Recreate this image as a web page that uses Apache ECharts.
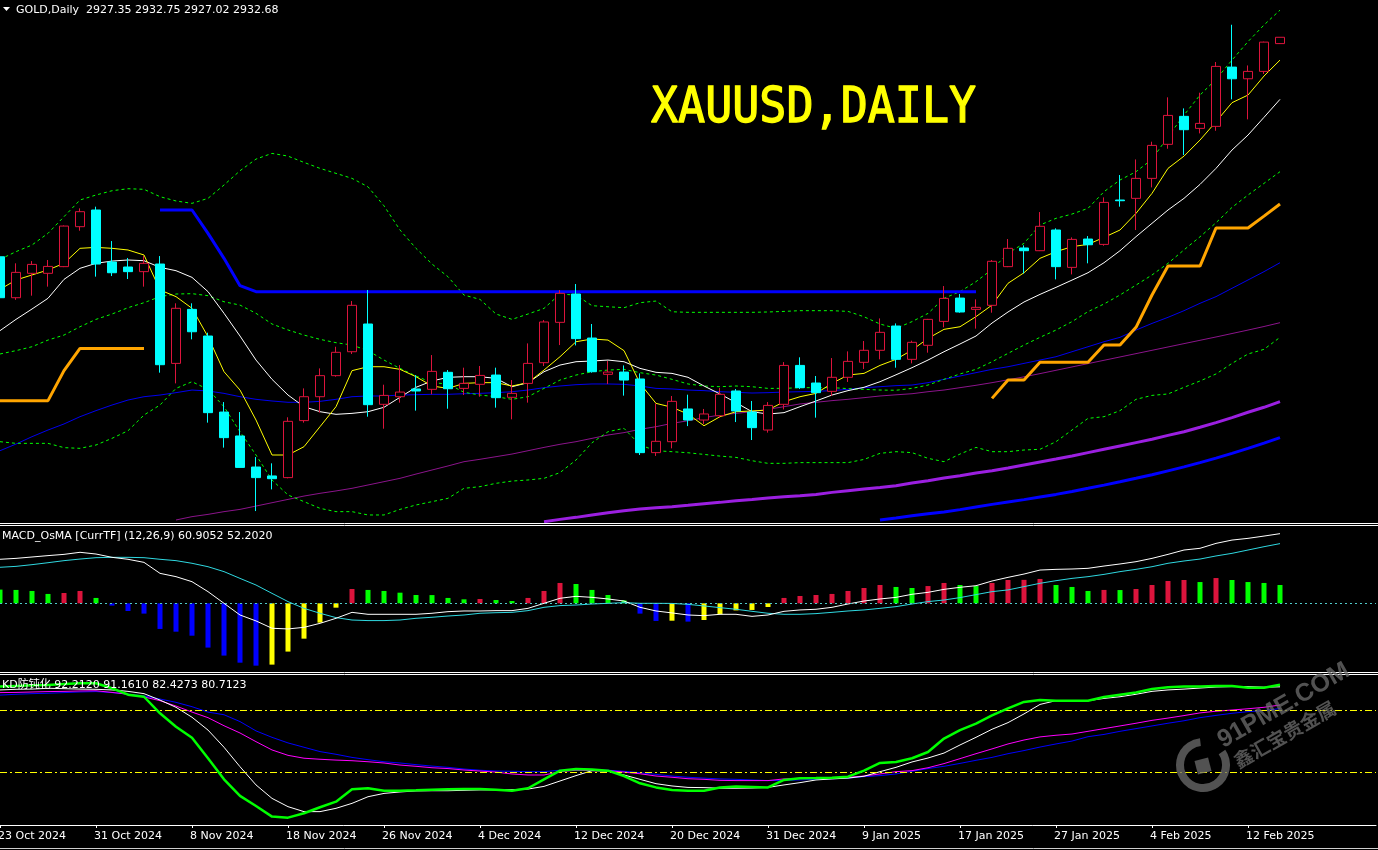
<!DOCTYPE html>
<html><head><meta charset="utf-8">
<script src="https://cdn.jsdelivr.net/npm/echarts@6/dist/echarts.min.js"></script>
<style>html,body{margin:0;padding:0;background:#000;overflow:hidden}#c{width:1378px;height:850px}</style>
</head><body><div id="c"></div>
<script>
// ---------------- data ----------------
const dates = ['23 Oct 2024','24 Oct 2024','25 Oct 2024','28 Oct 2024','29 Oct 2024','30 Oct 2024','31 Oct 2024','1 Nov 2024','4 Nov 2024','5 Nov 2024',
'6 Nov 2024','7 Nov 2024','8 Nov 2024','11 Nov 2024','12 Nov 2024','13 Nov 2024','14 Nov 2024','15 Nov 2024','18 Nov 2024','19 Nov 2024',
'20 Nov 2024','21 Nov 2024','22 Nov 2024','25 Nov 2024','26 Nov 2024','27 Nov 2024','28 Nov 2024','29 Nov 2024','2 Dec 2024','3 Dec 2024',
'4 Dec 2024','5 Dec 2024','6 Dec 2024','9 Dec 2024','10 Dec 2024','11 Dec 2024','12 Dec 2024','13 Dec 2024','16 Dec 2024','17 Dec 2024',
'18 Dec 2024','19 Dec 2024','20 Dec 2024','23 Dec 2024','24 Dec 2024','26 Dec 2024','27 Dec 2024','30 Dec 2024','31 Dec 2024','2 Jan 2025',
'3 Jan 2025','6 Jan 2025','7 Jan 2025','8 Jan 2025','9 Jan 2025','10 Jan 2025','13 Jan 2025','14 Jan 2025','15 Jan 2025','16 Jan 2025',
'17 Jan 2025','20 Jan 2025','21 Jan 2025','22 Jan 2025','23 Jan 2025','24 Jan 2025','27 Jan 2025','28 Jan 2025','29 Jan 2025','30 Jan 2025',
'31 Jan 2025','3 Feb 2025','4 Feb 2025','5 Feb 2025','6 Feb 2025','7 Feb 2025','10 Feb 2025','11 Feb 2025','12 Feb 2025','13 Feb 2025',
'14 Feb 2025'];
const emptySlots = ['','','','','',''];

const open = [2748.2,2713.8,2734.3,2734.3,2739.9,2773.5,2787.5,2743.8,2739.6,2735.7,
2742.1,2658.6,2704.0,2681.6,2617.7,2597.6,2571.5,2564.0,2562.6,2610.5,
2630.6,2648.3,2668.4,2691.7,2624.2,2630.6,2637.1,2636.8,2651.1,2637.6,
2641.0,2648.8,2630.1,2641.8,2659.2,2693.1,2716.9,2679.9,2649.4,2651.3,
2645.5,2583.6,2592.8,2620.3,2611.0,2614.6,2635.4,2617.7,2602.6,2624.2,
2656.9,2642.1,2635.1,2646.9,2659.5,2669.6,2690.0,2662.0,2673.8,2693.9,
2713.5,2704.0,2707.4,2739.9,2755.6,2753.3,2770.7,2739.3,2763.1,2758.6,
2795.9,2797.3,2814.1,2842.7,2866.2,2856.1,2857.8,2907.6,2897.8,2904.0,
2927.35];
const high = [2758.0,2742.7,2744.6,2745.5,2774.5,2788.9,2790.3,2761.4,2747.2,2748.8,
2748.8,2709.1,2709.1,2684.4,2626.1,2617.7,2579.9,2574.6,2613.3,2637.6,
2654.4,2672.6,2711.0,2720.3,2640.7,2657.2,2648.8,2665.6,2653.0,2655.0,
2656.4,2655.0,2644.6,2675.4,2695.0,2720.2,2725.3,2691.7,2660.6,2656.9,
2650.2,2625.0,2631.2,2632.3,2620.3,2637.9,2637.1,2627.0,2626.1,2659.7,
2663.7,2648.0,2663.1,2668.7,2677.4,2696.4,2692.2,2677.7,2696.0,2723.6,
2716.9,2712.4,2745.5,2763.1,2757.8,2785.8,2772.1,2764.5,2765.6,2798.1,
2816.9,2830.0,2844.9,2882.2,2872.9,2886.1,2911.9,2943.2,2909.0,2929.0,
2932.75];
const low = [2708.0,2712.0,2715.5,2723.1,2739.5,2770.1,2731.5,2732.0,2729.5,2723.1,
2650.8,2641.8,2678.8,2608.8,2587.8,2571.0,2534.5,2552.7,2562.0,2608.8,
2617.2,2647.4,2666.5,2613.8,2603.7,2625.6,2618.9,2632.6,2620.5,2632.0,
2630.6,2621.4,2611.6,2625.6,2656.4,2674.0,2673.7,2650.8,2641.3,2631.5,
2581.6,2580.8,2587.2,2605.9,2607.6,2612.7,2609.3,2594.2,2600.4,2619.9,
2637.1,2613.0,2631.2,2643.0,2653.9,2662.0,2655.0,2658.6,2667.6,2688.9,
2701.2,2687.8,2701.2,2739.5,2734.2,2753.0,2729.2,2733.4,2742.7,2757.5,
2790.3,2770.7,2806.5,2839.0,2833.7,2851.9,2854.1,2880.5,2863.7,2901.8,
2927.02];
const close = [2713.8,2735.1,2741.8,2740.1,2774.0,2786.1,2742.1,2734.8,2735.7,2742.7,
2657.5,2704.9,2685.2,2617.2,2596.2,2571.2,2562.6,2561.7,2609.9,2630.6,
2648.3,2667.9,2707.4,2623.9,2631.7,2634.5,2635.4,2651.9,2637.3,2641.8,
2648.5,2629.8,2633.4,2658.6,2693.4,2717.5,2679.4,2651.6,2651.3,2644.6,
2583.6,2593.1,2626.7,2611.0,2616.1,2632.6,2618.6,2604.6,2623.3,2656.9,
2638.2,2634.0,2646.9,2660.3,2669.6,2684.7,2662.0,2676.3,2695.6,2713.2,
2701.8,2705.7,2744.4,2755.3,2753.3,2773.8,2739.9,2762.8,2758.3,2793.9,
2795.3,2814.1,2841.8,2867.0,2855.0,2860.3,2908.2,2897.8,2904.0,2928.6,
2932.68];

const maFast = [2720.8,2728.7,2732.9,2737.1,2742.7,2755.3,2756.1,2755.3,2753.9,2749.7,
2720.3,2714.7,2704.9,2681.0,2651.6,2636.2,2611.0,2581.6,2581.6,2588.6,
2605.4,2622.2,2652.5,2655.8,2655.8,2653.6,2647.4,2639.6,2637.6,2641.8,
2642.4,2642.4,2639.6,2642.4,2653.0,2664.2,2676.8,2679.1,2678.2,2669.3,
2641.8,2625.0,2621.7,2616.0,2606.2,2613.8,2618.0,2618.6,2619.4,2626.4,
2630.6,2633.4,2641.8,2648.8,2650.2,2656.9,2662.0,2669.8,2679.6,2687.2,
2689.4,2697.9,2707.6,2725.9,2734.8,2746.9,2752.5,2756.7,2758.6,2764.5,
2770.7,2784.7,2801.5,2822.5,2832.8,2846.3,2861.7,2877.7,2884.1,2900.1,
2913.5];
const maMid = [2686.1,2695.6,2704.3,2713.3,2729.2,2738.5,2742.7,2744.6,2745.5,2744.9,
2739.3,2736.5,2730.9,2718.9,2700.7,2681.6,2661.4,2645.2,2632.0,2622.2,
2618.0,2615.8,2616.6,2618.0,2621.7,2630.1,2638.5,2643.8,2646.9,2647.4,
2647.4,2646.0,2639.0,2642.4,2651.6,2657.2,2660.0,2660.6,2661.4,2660.0,
2654.4,2651.1,2650.2,2646.9,2639.6,2632.9,2625.6,2618.0,2616.0,2617.2,
2622.2,2627.0,2632.0,2635.7,2638.5,2643.2,2649.0,2655.0,2661.4,2668.4,
2674.9,2681.6,2692.5,2701.8,2710.2,2716.6,2722.5,2728.6,2734.8,2743.2,
2753.3,2765.1,2776.3,2787.5,2797.3,2809.0,2822.5,2837.9,2850.5,2865.4,
2880.5];
const bbUpper = [2746.0,2752.5,2758.1,2767.9,2781.9,2795.9,2800.1,2803.7,2805.4,2804.9,
2798.7,2795.1,2793.1,2797.3,2808.5,2820.5,2830.3,2835.1,2832.8,2827.5,
2822.5,2818.3,2814.1,2807.0,2791.0,2770.7,2755.3,2742.1,2731.4,2716.0,
2712.4,2700.1,2695.6,2700.1,2704.8,2716.9,2716.0,2707.1,2706.2,2705.4,
2709.6,2711.0,2702.0,2701.5,2701.5,2701.5,2701.5,2701.5,2701.8,2702.3,
2702.9,2702.9,2702.9,2702.3,2697.8,2691.7,2688.0,2693.7,2700.6,2713.3,
2718.9,2727.3,2737.6,2751.1,2759.5,2774.9,2780.5,2784.1,2788.9,2802.9,
2812.7,2819.7,2830.1,2849.1,2867.3,2884.1,2897.3,2913.5,2929.0,2943.0,
2955.5];
const bbMiddle = [2666.5,2669.3,2672.6,2678.2,2682.4,2689.4,2695.6,2700.1,2705.4,2709.6,
2714.7,2716.9,2717.2,2715.5,2710.4,2707.6,2700.7,2691.7,2686.7,2682.4,
2678.8,2676.0,2674.0,2669.3,2661.4,2654.4,2648.0,2642.4,2641.3,2634.3,
2632.0,2630.6,2628.4,2630.6,2637.6,2644.6,2648.8,2651.6,2653.0,2653.6,
2650.8,2648.8,2645.2,2641.3,2639.6,2639.0,2639.6,2639.0,2637.6,2637.6,
2638.2,2638.2,2638.2,2637.4,2636.8,2636.2,2636.0,2637.6,2640.4,2645.2,
2649.7,2653.6,2660.0,2667.0,2674.0,2680.5,2686.6,2693.7,2702.1,2708.5,
2716.1,2724.4,2732.9,2742.7,2754.0,2765.0,2776.8,2789.7,2800.1,2809.9,
2819.7];
const bbLower = [2592.8,2591.4,2591.4,2591.4,2587.8,2587.2,2590.0,2595.6,2602.0,2615.2,
2623.6,2637.6,2643.2,2636.8,2622.2,2601.2,2581.6,2560.6,2548.0,2542.4,
2536.8,2534.0,2534.0,2531.2,2531.2,2535.9,2539.6,2542.4,2545.2,2553.6,
2555.0,2557.8,2559.7,2560.6,2562.0,2566.8,2577.4,2591.9,2601.2,2604.0,
2590.0,2585.2,2584.4,2583.5,2582.1,2580.7,2579.6,2576.8,2574.6,2574.6,
2575.2,2575.2,2575.2,2575.2,2577.9,2583.0,2584.4,2583.6,2578.8,2576.0,
2582.4,2588.0,2584.4,2584.4,2585.8,2586.4,2592.8,2602.6,2612.4,2613.8,
2618.9,2628.4,2631.7,2632.9,2638.5,2643.8,2649.7,2658.6,2666.5,2670.4,
2680.5];
const maBlue = [2585.2,2590.8,2597.0,2602.6,2607.7,2613.8,2618.9,2623.6,2627.8,2630.6,
2632.0,2634.0,2636.2,2635.4,2633.4,2630.6,2628.4,2627.0,2625.9,2625.9,
2626.7,2628.4,2630.6,2631.2,2631.2,2632.0,2632.3,2632.6,2632.6,2633.1,
2633.4,2634.0,2634.8,2636.2,2638.2,2639.6,2640.7,2641.3,2641.3,2641.0,
2639.6,2637.6,2637.1,2636.2,2635.7,2634.8,2634.3,2633.7,2634.0,2634.5,
2634.8,2635.1,2635.7,2636.8,2638.2,2639.0,2639.9,2640.4,2642.4,2645.2,
2648.0,2650.8,2653.6,2655.8,2658.6,2661.4,2664.2,2668.4,2672.6,2676.8,
2680.5,2686.6,2692.2,2697.3,2702.9,2709.1,2714.7,2721.7,2728.7,2735.7,
2743.2];
const maPurple = [null,null,null,null,null,null,null,null,null,null,
null,2527.0,2529.8,2531.7,2534.0,2535.9,2538.7,2541.5,2544.3,2547.1,
2549.4,2551.4,2553.6,2556.4,2559.2,2562.0,2565.6,2569.0,2572.4,2576.0,
2578.0,2580.2,2582.4,2585.2,2588.0,2590.6,2592.8,2595.6,2598.4,2600.4,
2603.2,2605.4,2608.2,2610.4,2613.0,2615.2,2616.6,2618.0,2620.0,2622.2,
2624.5,2625.9,2627.3,2628.4,2629.8,2631.2,2632.2,2633.1,2634.8,2636.2,
2638.2,2640.2,2642.4,2644.8,2647.3,2650.0,2652.8,2655.6,2658.4,2661.2,
2664.0,2666.8,2669.6,2672.4,2675.2,2678.0,2680.8,2683.7,2686.6,2689.6,
2692.8];
const maViolet = [null,null,null,null,null,null,null,null,null,null,
null,null,null,null,null,null,null,null,null,null,
null,null,null,null,null,null,null,null,null,null,
null,null,null,null,2525.6,2527.5,2529.2,2531.2,2533.1,2534.8,
2536.2,2537.3,2538.2,2539.3,2540.7,2541.8,2543.2,2544.3,2545.5,2546.6,
2547.4,2548.5,2550.2,2551.6,2553.0,2554.2,2555.8,2558.1,2560.0,2562.3,
2564.2,2566.5,2568.4,2570.7,2573.2,2575.7,2578.2,2580.8,2583.6,2586.4,
2589.2,2592.0,2594.8,2598.1,2601.2,2604.9,2608.8,2613.0,2617.5,2621.7,
2626.4];
const maSlowBlue = [null,null,null,null,null,null,null,null,null,null,
null,null,null,null,null,null,null,null,null,null,
null,null,null,null,null,null,null,null,null,null,
null,null,null,null,null,null,null,null,null,null,
null,null,null,null,null,null,null,null,null,null,
null,null,null,null,null,2527.0,2528.7,2530.6,2532.3,2533.7,
2535.7,2537.9,2540.1,2542.1,2544.1,2546.3,2548.5,2551.0,2553.6,2556.3,
2559.1,2562.0,2565.0,2568.3,2571.6,2575.2,2579.0,2583.0,2587.2,2591.6,
2596.2];
const stopBlue = [null,null,null,null,null,null,null,null,null,null,
2787.5,2787.5,2787.5,2767.9,2746.9,2723.9,2718.9,2718.9,2718.9,2718.9,
2718.9,2718.9,2718.9,2718.9,2718.9,2718.9,2718.9,2718.9,2718.9,2718.9,
2718.9,2718.9,2718.9,2718.9,2718.9,2718.9,2718.9,2718.9,2718.9,2718.9,
2718.9,2718.9,2718.9,2718.9,2718.9,2718.9,2718.9,2718.9,2718.9,2718.9,
2718.9,2718.9,2718.9,2718.9,2718.9,2718.9,2718.9,2718.9,2718.9,2718.9,
2718.9,2718.9,null,null,null,null,null,null,null,null,
null,null,null,null,null,null,null,null,null,null,
null];
const stopOrange = [2627.3,2627.3,2627.3,2627.3,2652.5,2671.2,2671.2,2671.2,2671.2,2671.2,
null,null,null,null,null,null,null,null,null,null,
null,null,null,null,null,null,null,null,null,null,
null,null,null,null,null,null,null,null,null,null,
null,null,null,null,null,null,null,null,null,null,
null,null,null,null,null,null,null,null,null,null,
null,null,2629.2,2644.6,2644.6,2659.5,2659.5,2659.5,2659.5,2674.0,
2674.0,2688.9,2716.1,2740.4,2740.4,2740.4,2772.4,2772.4,2772.4,2782.4,
2792.5];

const macdHist = [12.0,11.7,10.8,8.2,9.0,10.8,4.7,-2.0,-6.7,-9.0,
-22.4,-24.8,-28.3,-38.7,-45.7,-51.9,-54.5,-53.6,-42.2,-30.9,
-16.9,-3.8,12.5,11.7,10.8,9.3,7.3,7.2,4.7,3.5,
3.8,2.9,2.0,4.7,10.8,17.8,16.9,11.7,7.3,2.6,
-9.0,-15.4,-15.2,-16.0,-14.6,-9.6,-6.2,-5.8,-3.2,4.7,
6.4,7.3,8.2,10.8,13.4,16.0,14.3,13.4,15.1,17.8,
16.0,15.1,17.8,20.4,20.5,21.3,16.0,14.3,10.8,11.7,
11.6,12.5,16.0,19.5,20.4,18.6,22.1,20.4,18.6,17.8,
16.0];
const macdLine = [38.5,39.3,40.5,41.7,42.8,44.6,43.1,40.2,38.5,35.8,
26.2,23.3,18.9,10.2,0.0,-10.2,-15.4,-21.8,-22.4,-21.0,
-17.5,-13.1,-7.9,-9.6,-9.6,-9.6,-9.6,-8.7,-7.3,-6.7,
-6.7,-6.4,-6.4,-4.4,0.0,4.4,6.1,5.2,3.8,2.0,
-3.5,-6.7,-8.4,-10.2,-10.8,-9.6,-9.6,-11.4,-10.2,-7.0,
-5.8,-5.2,-3.5,-0.6,2.0,3.8,5.2,7.9,9.6,12.2,
14.0,15.4,19.5,22.7,25.6,29.1,29.7,30.0,30.6,32.6,
34.4,36.4,39.3,42.8,46.6,48.1,52.4,55.3,56.8,58.8,
60.9];
const signalLine = [31.5,32.3,33.8,35.5,37.3,38.7,39.9,40.2,40.2,39.9,
38.5,37.3,35.0,32.0,27.7,21.8,16.0,8.7,1.5,-4.4,
-8.7,-12.5,-14.6,-15.1,-15.1,-14.6,-13.1,-12.2,-11.1,-10.2,
-8.7,-8.2,-7.9,-6.4,-3.5,-2.0,-1.5,-0.6,0.0,0.6,
0.0,0.0,-0.1,-0.9,-2.3,-3.8,-5.2,-7.0,-8.7,-9.6,
-9.6,-9.0,-7.9,-6.7,-5.8,-4.4,-2.9,-0.6,1.5,2.9,
5.0,7.6,10.2,11.7,14.6,17.5,19.8,21.8,23.3,25.3,
27.7,29.7,32.0,35.0,37.0,38.7,41.4,43.7,46.6,49.5,
52.2];

const kdGreen = [91.3,91.6,91.9,92.1,92.6,92.9,92.9,90.5,87.4,86.4,
78.4,71.9,66.6,56.7,46.5,38.5,33.6,28.5,28.0,30.1,
33.0,35.7,41.7,42.2,41.0,41.0,41.2,41.5,41.7,41.8,
41.8,41.5,41.0,42.2,46.5,50.7,51.5,51.3,50.7,48.1,
44.6,42.6,41.4,41.0,41.0,42.6,43.0,42.8,42.6,46.2,
47.0,47.1,47.3,47.8,50.7,54.4,54.9,56.7,59.7,66.2,
70.3,73.4,77.4,80.8,83.9,84.8,84.5,84.5,84.5,86.3,
87.4,88.5,90.1,91.0,91.3,91.3,91.6,91.6,90.8,90.8,
92.2];
const kdWhite = [89.7,90.0,90.1,90.5,90.3,90.1,90.0,89.7,89.0,87.9,
84.8,81.3,76.5,70.3,62.0,52.6,43.8,37.3,33.3,30.9,
30.9,32.5,34.9,38.1,39.7,40.4,40.9,41.0,41.0,41.2,
41.4,41.4,41.5,41.8,43.1,45.7,48.3,50.7,50.5,48.6,
46.5,44.4,43.3,42.6,42.5,42.2,42.2,42.3,42.6,43.8,
44.9,46.2,46.7,47.1,48.0,50.2,52.3,54.9,56.8,59.2,
63.1,66.8,70.7,73.9,78.1,82.7,84.5,84.5,84.5,85.6,
86.4,87.6,89.0,89.7,90.1,90.6,91.1,91.3,91.3,91.0,
91.2];
const kdMagenta = [88.4,88.5,88.7,88.9,89.0,89.2,89.3,88.5,87.6,86.3,
84.5,81.9,79.0,76.3,72.4,68.9,64.7,60.7,58.1,56.7,
56.2,55.8,55.5,55.0,54.4,53.4,52.8,52.1,51.7,51.0,
50.5,50.0,49.1,48.6,48.6,50.2,50.9,50.7,50.7,50.0,
49.2,48.1,47.5,46.8,46.5,46.0,45.9,45.9,45.9,46.7,
47.0,47.0,47.1,47.5,48.1,49.1,50.2,50.7,52.1,54.1,
56.5,58.9,61.2,63.6,65.5,67.0,67.8,68.4,69.7,71.0,
72.3,73.6,75.0,76.1,77.3,78.6,79.4,80.0,80.6,81.3,
82.4];
const kdBlue = [87.2,87.6,87.9,88.1,88.4,88.7,88.9,88.4,87.7,86.8,
85.3,83.7,81.6,79.0,77.7,74.4,69.9,66.8,64.1,62.0,
59.9,58.6,57.1,56.0,55.0,54.4,53.6,52.9,52.3,51.5,
50.9,50.5,50.4,50.2,50.2,50.9,51.0,51.0,50.9,50.4,
49.7,48.9,48.1,47.5,47.1,46.7,46.5,46.2,45.9,46.0,
46.2,46.5,46.8,47.1,47.8,48.3,49.1,50.4,51.7,52.8,
54.2,55.7,57.1,58.9,60.4,62.1,63.6,65.0,67.1,68.2,
69.7,71.0,72.3,73.6,74.8,76.3,77.4,78.4,79.2,79.7,
80.7];
const kdLevels = [80, 50];

const priceTitle = 'GOLD,Daily  2927.35 2932.75 2927.02 2932.68';
const bigTitle = 'XAUUSD,DAILY';
const macdTitle = 'MACD_OsMA [CurrTF] (12,26,9) 60.9052 52.2020';
const kdTitle = 'KD防钝化 92.2120 91.1610 82.4273 80.7123';
const wmText1 = '91PME.COM';
const wmText2 = '鑫汇宝贵金属';

// ---------------- chart ----------------
const N = dates.length;
const cats = dates.concat(emptySlots);
const slotW = 16;
const gWidth = slotW * (cats.length - 1);
const showTick = (i) => i % 6 === 0 && i < N;

function ln(data, color, width, opts) {
  opts = opts || {};
  return Object.assign({
    type: 'line', data: data, xAxisIndex: 0, yAxisIndex: 0,
    symbol: 'none', silent: true, connectNulls: false,
    lineStyle: { color: color, width: width, type: opts.dash || 'solid' },
    z: 2
  }, opts.extra || {});
}

const chart = echarts.init(document.getElementById('c'), null, { renderer: 'canvas' });
const font = 'DejaVu Sans, Noto Sans CJK SC, sans-serif';

const baseGraphic = [
  { type: 'line', shape: { x1: 0, y1: 523.5, x2: 1378, y2: 523.5 }, style: { stroke: '#ffffff', lineWidth: 1 }, z: 50 },
  { type: 'line', shape: { x1: 0, y1: 525.5, x2: 1378, y2: 525.5 }, style: { stroke: '#ffffff', lineWidth: 1 }, z: 50 },
  { type: 'line', shape: { x1: 0, y1: 672.5, x2: 1378, y2: 672.5 }, style: { stroke: '#ffffff', lineWidth: 1 }, z: 50 },
  { type: 'line', shape: { x1: 0, y1: 674.5, x2: 1378, y2: 674.5 }, style: { stroke: '#ffffff', lineWidth: 1 }, z: 50 },
  { type: 'line', shape: { x1: 0, y1: 848.5, x2: 1378, y2: 848.5 }, style: { stroke: '#cfcfcf', lineWidth: 1 }, z: 50 },
  { type: 'polygon', shape: { points: [[3, 7], [10, 7], [6.5, 11]] }, style: { fill: '#ffffff' }, z: 50 },
  { type: 'text', x: 16, y: 10, z: 50, style: { text: priceTitle, fill: '#ffffff', font: '11px ' + font, textVerticalAlign: 'middle' } },
  { type: 'text', x: 651, y: 109, z: 50, scaleY: 1.12, style: { text: bigTitle, fill: '#ffff00', stroke: '#ffff00', lineWidth: 1.2, font: '45px DejaVu Sans Mono', textVerticalAlign: 'middle' } },
  { type: 'text', x: 2, y: 536, z: 50, style: { text: macdTitle, fill: '#ffffff', font: '11px ' + font, textVerticalAlign: 'middle' } },
  { type: 'text', x: 2, y: 685, z: 50, style: { text: kdTitle, fill: '#ffffff', font: '11px ' + font, textVerticalAlign: 'middle' } },
  { type: 'arc', z: 60, shape: { cx: 1203, cy: 765, r: 23, startAngle: -0.6, endAngle: 4.6, clockwise: true },
    style: { stroke: 'rgba(110,110,110,0.75)', lineWidth: 8, fill: null } },
  { type: 'rect', z: 60, x: 1203, y: 766, rotation: 0.25, shape: { x: -7, y: -7, width: 14, height: 14 },
    style: { fill: 'rgba(110,110,110,0.75)' } },
  { type: 'text', z: 60, x: 1226, y: 753, rotation: 0.52,
    style: { text: wmText1, fill: 'rgba(110,110,110,0.75)', font: 'bold 25px Liberation Sans', textVerticalAlign: 'bottom' } },
  { type: 'text', z: 60, x: 1240, y: 771, rotation: 0.52,
    style: { text: wmText2, fill: 'rgba(110,110,110,0.75)', font: 'bold 19px Noto Sans CJK SC', textVerticalAlign: 'bottom' } }
];

const option = {
  backgroundColor: '#000000',
  animation: false,
  grid: [
    { left: 0, width: gWidth, top: 0, height: 522 },
    { left: 0, width: gWidth, top: 526, height: 144 },
    { left: 0, width: gWidth, top: 675, height: 150 }
  ],
  xAxis: [
    { type: 'category', gridIndex: 0, data: cats, boundaryGap: false, show: false },
    { type: 'category', gridIndex: 1, data: cats, boundaryGap: false, show: false },
    { type: 'category', gridIndex: 2, data: cats, boundaryGap: false,
      axisLine: { show: true, onZero: false, lineStyle: { color: '#ffffff', width: 1 } },
      axisTick: { show: true, length: 3, interval: showTick, lineStyle: { color: '#ffffff' } },
      axisLabel: { show: false },
      splitLine: { show: false } }
  ],
  yAxis: [
    { type: 'value', gridIndex: 0, min: 2525.3, max: 2964, show: false, splitLine: { show: false } },
    { type: 'value', gridIndex: 1, min: -58.3, max: 67.6, show: false, splitLine: { show: false } },
    { type: 'value', gridIndex: 2, min: 24.44, max: 96.91, show: false, splitLine: { show: false } }
  ],
  series: [
    ln(maSlowBlue, '#0000ff', 3),
    ln(maViolet, '#9b1fe0', 3),
    ln(maPurple, '#8b148b', 1),
    ln(maBlue, '#0000ee', 1),
    ln(bbUpper, '#00ff00', 1, { dash: [3, 3] }),
    ln(bbMiddle, '#00ff00', 1, { dash: [3, 3] }),
    ln(bbLower, '#00ff00', 1, { dash: [3, 3] }),
    ln(stopBlue, '#0000ff', 3),
    ln(stopOrange, '#ffa500', 3),
    ln(maMid, '#ffffff', 1),
    ln(maFast, '#ffff00', 1),
    {
      type: 'candlestick', xAxisIndex: 0, yAxisIndex: 0, silent: true, z: 5,
      barWidth: 10,
      data: open.map((o, i) => [o, close[i], low[i], high[i]]),
      itemStyle: { color: '#000000', color0: '#00ffff', borderColor: '#dc143c', borderColor0: '#00ffff', borderWidth: 1 }
    },
    {
      type: 'bar', xAxisIndex: 1, yAxisIndex: 1, data: macdHist, barWidth: 5, silent: true, z: 2,
      itemStyle: {
        color: (p) => {
          const v = macdHist[p.dataIndex];
          const prev = p.dataIndex > 0 ? macdHist[p.dataIndex - 1] : Infinity;
          if (v >= 0) return v > prev ? '#dc143c' : '#00ff00';
          return v > prev ? '#ffff00' : '#0000ff';
        }
      },
      markLine: { silent: true, symbol: 'none', label: { show: false },
        lineStyle: { color: '#4fc9c9', type: [2, 3], width: 1 }, data: [{ yAxis: 0 }] }
    },
    ln(signalLine, '#2fd8e0', 1, { extra: { xAxisIndex: 1, yAxisIndex: 1, z: 3 } }),
    ln(macdLine, '#ffffff', 1, { extra: { xAxisIndex: 1, yAxisIndex: 1, z: 4 } }),
    ln(kdBlue, '#0000ff', 1, { extra: { xAxisIndex: 2, yAxisIndex: 2, z: 2,
      markLine: { silent: true, symbol: 'none', label: { show: false },
        lineStyle: { color: '#ffff00', type: [7, 3, 2, 3], width: 1 },
        data: kdLevels.map(v => ({ yAxis: v })) } } }),
    ln(kdMagenta, '#ff00ff', 1, { extra: { xAxisIndex: 2, yAxisIndex: 2, z: 3 } }),
    ln(kdWhite, '#ffffff', 1, { extra: { xAxisIndex: 2, yAxisIndex: 2, z: 4 } }),
    ln(kdGreen, '#00ff00', 2.5, { extra: { xAxisIndex: 2, yAxisIndex: 2, z: 5 } })
  ],
  graphic: baseGraphic
};
chart.setOption(option);

// date labels placed through the x axis scale, left-aligned at each labelled tick
const dateLabels = [];
for (let i = 0; i < N; i++) {
  if (!showTick(i)) continue;
  const px = chart.convertToPixel({ xAxisIndex: 2 }, i);
  dateLabels.push({ type: 'text', x: px - 2, y: 836.5, z: 50, silent: true,
    style: { text: dates[i], fill: '#ffffff', font: '11px ' + font, textAlign: 'left', textVerticalAlign: 'middle' } });
}
chart.setOption({ graphic: baseGraphic.concat(dateLabels) });
</script>
</body></html>
